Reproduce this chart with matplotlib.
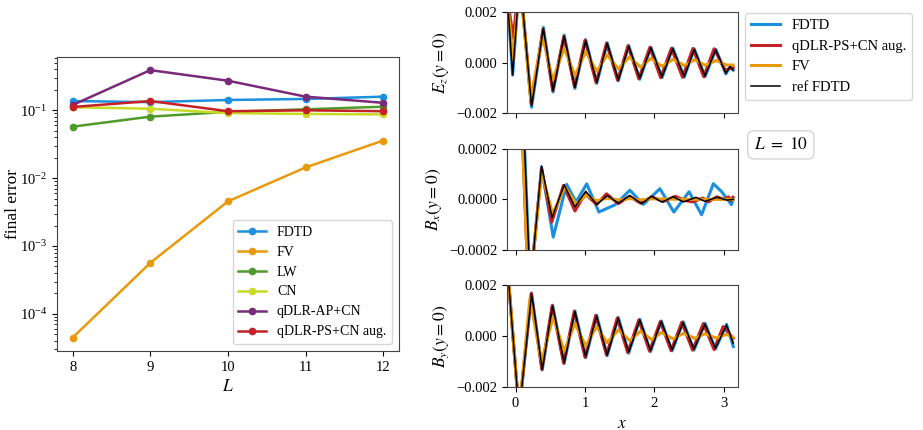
import numpy as np
import matplotlib
matplotlib.use("Agg")
import matplotlib.pyplot as plt

plt.rcParams["font.family"] = ["Liberation Serif", "DejaVu Serif"]
plt.rcParams["mathtext.fontset"] = "stix"
plt.rcParams["axes.edgecolor"] = "#444444"

# ---- left panel: final error vs L ----
L_vals = [8, 9, 10, 11, 12]
err_fdtd = [0.137, 0.132, 0.142, 0.147, 0.159]
err_fv = [4.49e-5, 5.66e-4, 4.56e-3, 0.0144, 0.0359]
err_lw = [0.0575, 0.0807, 0.095, 0.1035, 0.113]
err_cn = [0.111, 0.1055, 0.091, 0.0885, 0.087]
err_ap = [0.12, 0.391, 0.273, 0.159, 0.129]
err_ps = [0.112, 0.137, 0.097, 0.100, 0.097]
err_labels = ["FDTD", "FV", "LW", "CN", "qDLR-AP+CN", "qDLR-PS+CN aug."]

C_BLUE = "#1b90de"
C_ORANGE = "#e99a0c"
C_GREEN = "#4f9b2a"
C_YELLOW = "#c8da24"
C_PURPLE = "#7a2a78"
C_RED = "#c42127"

# ---- right panels: fields along y = 0 (L = 10) ----
# E_z, units 1e-3
ez_ref_x = [-0.12, -0.043, 0.06, 0.23, 0.40, 0.54, 0.70, 0.855, 1.01, 1.17, 1.32, 1.48, 1.63, 1.79,
            1.95, 2.11, 2.265, 2.43, 2.575, 2.73, 2.885, 3.03, 3.09, 3.135]
ez_ref_y = [2.6, -0.49, 3.4, -1.70, 1.34, -1.11, 1.04, -0.98, 0.86, -0.78, 0.75, -0.69, 0.64, -0.62,
            0.58, -0.57, 0.55, -0.56, 0.52, -0.53, 0.50, -0.43, -0.16, -0.30]
ez_fdtd_y = [2.6, -0.50, 3.4, -1.76, 1.38, -1.16, 1.08, -1.02, 0.90, -0.82, 0.78, -0.72, 0.67, -0.66,
             0.60, -0.60, 0.57, -0.58, 0.54, -0.56, 0.52, -0.45, -0.16, -0.30]
ez_ps_x = [-0.12, -0.035, 0.06, 0.225, 0.395, 0.535, 0.695, 0.85, 1.0, 1.16, 1.31, 1.47, 1.62, 1.775,
           1.935, 2.09, 2.245, 2.405, 2.555, 2.71, 2.86, 3.02, 3.135]
ez_ps_y = [2.6, 0.96, 3.4, -1.62, 1.30, -1.11, 1.02, -0.96, 0.88, -0.80, 0.76, -0.70, 0.66, -0.64,
           0.60, -0.60, 0.56, -0.58, 0.55, -0.56, 0.54, -0.30, -0.20]
ez_fv_x = [-0.12, -0.035, 0.06, 0.216, 0.39, 0.535, 0.70, 0.855, 1.01, 1.17, 1.32, 1.48, 1.64, 1.80,
           1.95, 2.11, 2.27, 2.43, 2.58, 2.73, 2.89, 3.04, 3.135]
ez_fv_y = [2.5, 0.10, 3.3, -1.43, 1.02, -0.70, 0.57, -0.52, 0.43, -0.35, 0.30, -0.25, 0.22, -0.18,
           0.16, -0.15, 0.13, -0.12, 0.11, -0.11, 0.08, -0.10, -0.10]

# B_x, units 1e-4
bx_ref_x = [-0.12, 0.13, 0.21, 0.374, 0.525, 0.70, 0.855, 1.01, 1.17, 1.32, 1.48, 1.645, 1.815, 1.96,
            2.11, 2.27, 2.42, 2.60, 2.73, 2.90, 3.05, 3.135]
bx_ref_y = [12, 2, -3.5, 1.32, -0.72, 0.57, -0.30, 0.32, -0.20, 0.15, -0.15, 0.15, -0.17, 0.12,
            -0.11, 0.10, -0.10, 0.08, -0.08, 0.08, -0.03, 0.0]
bx_fdtd_x = [-0.12, 0.13, 0.21, 0.374, 0.542, 0.735, 0.87, 1.025, 1.20, 1.43, 1.647, 1.84, 2.08, 2.28,
             2.50, 2.68, 2.85, 2.97, 3.11, 3.14]
bx_fdtd_y = [12, 2, -3.5, 1.27, -1.49, 0.59, -0.10, 0.61, -0.50, -0.22, 0.36, -0.20, 0.42, -0.50,
             0.30, -0.61, 0.62, 0.30, -0.21, 0.05]
bx_ps_x = [-0.12, 0.105, 0.19, 0.374, 0.52, 0.69, 0.855, 1.0, 1.167, 1.31, 1.48, 1.64, 1.80, 1.96,
           2.13, 2.30, 2.45, 2.55, 2.70, 2.78, 2.90, 3.0, 3.07, 3.10, 3.13]
bx_ps_y = [12, 2, -4, 1.21, -0.90, 0.55, -0.46, 0.22, -0.20, 0.22, -0.17, 0.12, -0.15, 0.10,
           -0.08, 0.12, -0.05, -0.10, 0.05, -0.10, 0.10, 0.0, 0.10, -0.05, 0.08]
bx_fv_x = [-0.12, 0.105, 0.19, 0.374, 0.533, 0.71, 0.87, 1.02, 1.17, 1.32, 1.48, 1.65, 1.80, 1.96,
           2.50, 3.135]
bx_fv_y = [12, 2, -4, 1.08, -0.57, 0.49, -0.17, 0.16, -0.06, 0.05, -0.03, 0.03, -0.02, 0.02,
           0.0, 0.0]

# B_y, units 1e-3
by_ref_x = [-0.12, 0.05, 0.23, 0.384, 0.533, 0.70, 0.855, 1.01, 1.167, 1.32, 1.48, 1.63, 1.79, 1.945,
            2.10, 2.255, 2.415, 2.57, 2.73, 2.88, 3.04, 3.137]
by_ref_y = [2.8, -3.0, 1.66, -1.29, 1.19, -1.03, 0.97, -0.80, 0.80, -0.73, 0.71, -0.62, 0.64, -0.56,
            0.58, -0.54, 0.54, -0.51, 0.48, -0.47, 0.44, -0.27]
by_fdtd_y = [2.8, -3.0, 1.70, -1.32, 1.22, -1.07, 1.00, -0.84, 0.83, -0.76, 0.74, -0.66, 0.67, -0.60,
             0.60, -0.57, 0.57, -0.54, 0.51, -0.50, 0.47, -0.40]
by_ps_x = [-0.12, 0.05, 0.225, 0.378, 0.527, 0.692, 0.845, 1.0, 1.155, 1.31, 1.465, 1.615, 1.775, 1.93,
           2.085, 2.24, 2.395, 2.55, 2.705, 2.86, 2.99, 3.137]
by_ps_y = [2.8, -3.0, 1.68, -1.30, 1.20, -1.05, 0.98, -0.82, 0.82, -0.74, 0.72, -0.64, 0.64, -0.58,
           0.58, -0.56, 0.55, -0.54, 0.50, -0.52, 0.38, -0.08]
by_fv_x = [-0.12, 0.05, 0.206, 0.374, 0.54, 0.70, 0.855, 1.01, 1.167, 1.32, 1.48, 1.647, 1.80, 1.96,
           2.10, 2.27, 2.42, 2.58, 2.73, 2.89, 3.04, 3.137]
by_fv_y = [2.8, -3.0, 1.49, -1.00, 0.77, -0.58, 0.51, -0.38, 0.38, -0.25, 0.25, -0.17, 0.20, -0.13,
           0.15, -0.10, 0.12, -0.08, 0.10, -0.07, 0.08, -0.05]


fig = plt.figure(figsize=(9.23, 4.3), dpi=100)

# left: error vs L
ax = fig.add_axes([0.062, 0.184, 0.370, 0.684])
for ys, c, lab in zip([err_fdtd, err_fv, err_lw, err_cn, err_ap, err_ps],
                      [C_BLUE, C_ORANGE, C_GREEN, C_YELLOW, C_PURPLE, C_RED], err_labels):
    ax.plot(L_vals, ys, "-o", color=c, lw=1.8, ms=4.5, label=lab)
ax.set_yscale("log")
ax.set_xticks(L_vals)
ax.set_xlabel("$L$", fontsize=12.5)
ax.set_ylabel("final error", fontsize=12.5)
ax.yaxis.set_label_coords(-0.105, 0.5)
ax.tick_params(labelsize=10.5)
ax.legend(loc="lower right", fontsize=10, handlelength=2.0)

# right: field cuts
left, width = 0.5496, 0.2496
boxes = [(0.7365, 0.2363), (0.4186, 0.2356), (0.0993, 0.2372)]
fields = [
    (ez_ref_x, ez_ref_y, ez_ref_x, ez_fdtd_y, ez_ps_x, ez_ps_y, ez_fv_x, ez_fv_y, 1e-3, 0.002, "$E_z(y=0)$"),
    (bx_ref_x, bx_ref_y, bx_fdtd_x, bx_fdtd_y, bx_ps_x, bx_ps_y, bx_fv_x, bx_fv_y, 1e-4, 0.0002, "$B_x(y=0)$"),
    (by_ref_x, by_ref_y, by_ref_x, by_fdtd_y, by_ps_x, by_ps_y, by_fv_x, by_fv_y, 1e-3, 0.002, "$B_y(y=0)$"),
]
axes = []
for (b, h), f in zip(boxes, fields):
    rx, ry, fx, fy, px, py, vx, vy, unit, lim, lab = f
    a = fig.add_axes([left, b, width, h])
    a.plot(fx, np.array(fy) * unit, color=C_BLUE, lw=2.2, label="FDTD", solid_joinstyle="round")
    a.plot(px, np.array(py) * unit, color=C_RED, lw=2.2, label="qDLR-PS+CN aug.", solid_joinstyle="round")
    a.plot(vx, np.array(vy) * unit, color=C_ORANGE, lw=2.2, label="FV", solid_joinstyle="round")
    a.plot(rx, np.array(ry) * unit, color="black", lw=1.1, label="ref FDTD", solid_joinstyle="round")
    a.set_xlim(-0.12, 3.2)
    a.set_ylim(-lim, lim)
    a.set_yticks([-lim, 0, lim])
    a.set_xticks([0, 1, 2, 3])
    a.set_ylabel(lab, fontsize=12.5)
    a.tick_params(labelsize=10.5)
    axes.append(a)
axes[0].tick_params(labelbottom=False)
axes[1].tick_params(labelbottom=False)
axes[2].set_xlabel("$x$", fontsize=12.5)

h, l = axes[0].get_legend_handles_labels()
fig.legend(h, l, loc="upper left", bbox_to_anchor=(0.807, 0.969), fontsize=10.5,
           borderaxespad=0, handlelength=2.0)
fig.text(0.846, 0.663, "$L\\ =\\ 10$", fontsize=12.5, ha="center", va="center",
         bbox=dict(boxstyle="round,pad=0.35", fc="white", ec="0.8", lw=0.8))

fig.savefig("out.png", dpi=100)
